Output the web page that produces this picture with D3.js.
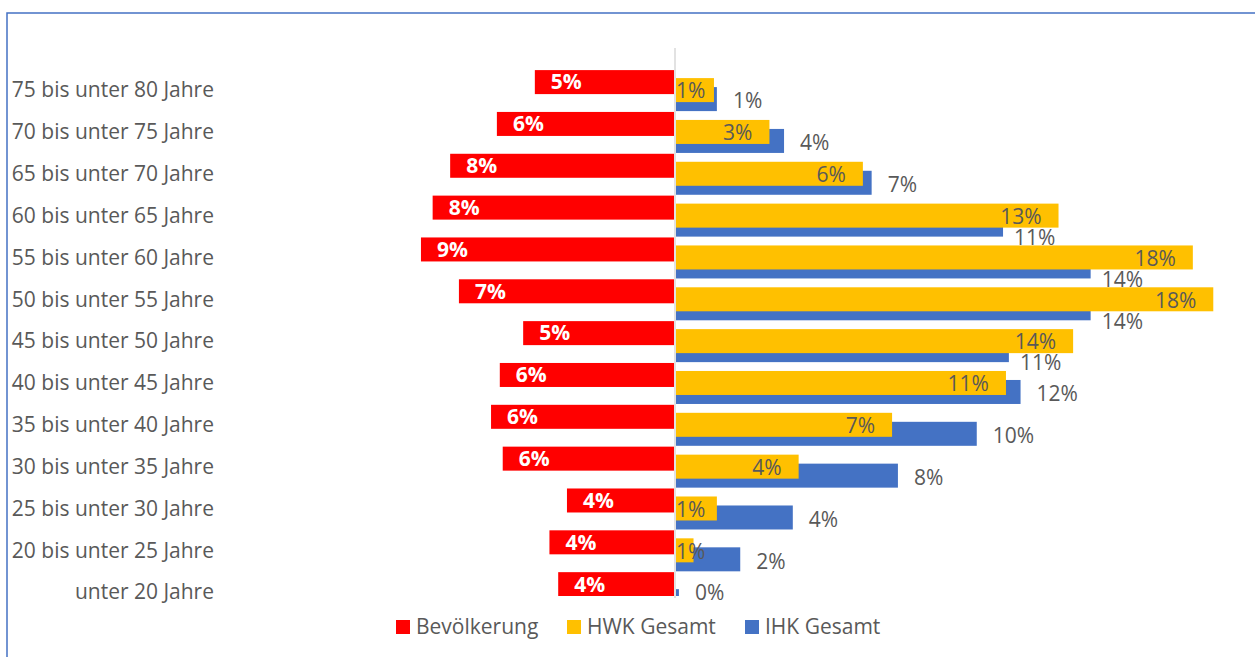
<!DOCTYPE html>
<html>
<head>
<meta charset="utf-8">
<script src="https://cdn.jsdelivr.net/npm/d3@7"></script>
<style>
  body { margin: 0; background: #fff; }
  text { font-family: "Open Sans", sans-serif; }
</style>
</head>
<body>
<script>
// age groups, top to bottom as shown
var categories = ["75 bis unter 80 Jahre", "70 bis unter 75 Jahre", "65 bis unter 70 Jahre",
  "60 bis unter 65 Jahre", "55 bis unter 60 Jahre", "50 bis unter 55 Jahre",
  "45 bis unter 50 Jahre", "40 bis unter 45 Jahre", "35 bis unter 40 Jahre",
  "30 bis unter 35 Jahre", "25 bis unter 30 Jahre", "20 bis unter 25 Jahre", "unter 20 Jahre"];

// shares in percent
var bevoelkerung = [4.8, 6.1, 7.7, 8.3, 8.7, 7.4, 5.2, 6.0, 6.3, 5.9, 3.7, 4.3, 4.0];
var hwk = [1.3, 3.2, 6.4, 13.1, 17.7, 18.4, 13.6, 11.3, 7.4, 4.2, 1.4, 0.6, 0];
var ihk = [1.4, 3.7, 6.7, 11.2, 14.2, 14.2, 11.4, 11.8, 10.3, 7.6, 4.0, 2.2, 0.1];

var seriesNames = ["Bevölkerung", "HWK Gesamt", "IHK Gesamt"];
var colors = ["#ff0000", "#ffc000", "#4472c4"];

var width = 1255, height = 657;
var grey = "#595959";
var fs = 21;
var plotBottom = 596;

var svg = d3.select("body").append("svg")
  .attr("width", width)
  .attr("height", height);

// frame
svg.append("rect")
  .attr("x", 7).attr("y", 13)
  .attr("width", width + 10).attr("height", height + 10)
  .attr("fill", "none")
  .attr("stroke", "#4472c4")
  .attr("stroke-width", 1.5);

svg.append("defs").append("clipPath")
  .attr("id", "plot")
  .append("rect")
  .attr("x", 0).attr("y", 40)
  .attr("width", width).attr("height", plotBottom - 40);

var x = d3.scaleLinear().domain([-10, 20]).range([383, 1259]);
var y = d3.scaleBand().domain(categories).range([69.1, 613]).padding(0);

var rows = categories.map(function(c, i) {
  return { cat: c, bev: bevoelkerung[i], hwk: hwk[i], ihk: ihk[i] };
});

function pct(v) { return Math.round(v) + "%"; }

// category labels
svg.append("g").selectAll("text")
  .data(categories)
  .enter().append("text")
  .attr("x", 214)
  .attr("y", function(d) { return Math.min(y(d) + y.bandwidth() / 2, 592); })
  .attr("dy", "0.35em")
  .attr("text-anchor", "end")
  .attr("font-size", fs)
  .attr("fill", grey)
  .text(function(d) { return d; });

var bars = svg.append("g").attr("clip-path", "url(#plot)");

// Bevölkerung (left)
bars.append("g").selectAll("rect")
  .data(rows)
  .enter().append("rect")
  .attr("x", function(d) { return x(-d.bev); })
  .attr("y", function(d) { return y(d.cat) + 1; })
  .attr("width", function(d) { return x(0) - 1 - x(-d.bev); })
  .attr("height", 24)
  .attr("fill", colors[0]);

// IHK (behind)
bars.append("g").selectAll("rect")
  .data(rows)
  .enter().append("rect")
  .attr("x", x(0) + 1)
  .attr("y", function(d) { return y(d.cat) + 18; })
  .attr("width", function(d) { return Math.max(0, x(d.ihk) - x(0)); })
  .attr("height", 24)
  .attr("fill", colors[2]);

// HWK (front)
bars.append("g").selectAll("rect")
  .data(rows)
  .enter().append("rect")
  .attr("x", x(0) + 1)
  .attr("y", function(d) { return y(d.cat) + 9; })
  .attr("width", function(d) { return Math.max(0, x(d.hwk) - x(0)); })
  .attr("height", 24)
  .attr("fill", colors[1]);

// axis line
svg.append("line")
  .attr("x1", x(0)).attr("x2", x(0))
  .attr("y1", 48).attr("y2", 598)
  .attr("stroke", "#d9d9d9")
  .attr("stroke-width", 1.5);

// labels red
svg.append("g").selectAll("text")
  .data(rows)
  .enter().append("text")
  .attr("x", function(d) { return x(-d.bev) + 16; })
  .attr("y", function(d) { return y(d.cat) + 13; })
  .attr("dy", "0.35em")
  .attr("font-size", fs)
  .attr("font-weight", "bold")
  .attr("fill", "#fff")
  .text(function(d) { return pct(d.bev); });

// labels HWK, inside end
svg.append("g").selectAll("text")
  .data(rows.filter(function(d) { return d.hwk > 0; }))
  .enter().append("text")
  .attr("font-size", fs)
  .attr("fill", grey)
  .attr("y", function(d) { return y(d.cat) + 22; })
  .attr("dy", "0.35em")
  .text(function(d) { return pct(d.hwk); })
  .each(function(d) {
    var tw = this.getComputedTextLength();
    var w = x(d.hwk) - x(0);
    if (w - 16 < tw) {
      d3.select(this).attr("text-anchor", "start").attr("x", x(0) + 1);
    } else {
      d3.select(this).attr("text-anchor", "end").attr("x", x(d.hwk) - 16);
    }
  });

// labels IHK, outside end (pushed down where the HWK bar is longer)
svg.append("g").selectAll("text")
  .data(rows)
  .enter().append("text")
  .attr("font-size", fs)
  .attr("fill", grey)
  .attr("x", function(d) { return x(d.ihk) + (d.hwk > d.ihk ? 12 : 17); })
  .attr("y", function(d) {
    var yy = y(d.cat) + 30 + (d.hwk > d.ihk ? 13 : 2);
    return Math.min(yy, plotBottom - 3);
  })
  .attr("dy", "0.35em")
  .text(function(d) { return pct(d.ihk); });

// legend
var legendX = [396, 567, 745];
var legend = svg.append("g").selectAll("g")
  .data(seriesNames)
  .enter().append("g")
  .attr("transform", function(d, i) { return "translate(" + legendX[i] + ",620)"; });
legend.append("rect")
  .attr("width", 14).attr("height", 14)
  .attr("fill", function(d, i) { return colors[i]; });
legend.append("text")
  .attr("x", 20).attr("y", 7)
  .attr("dy", "0.35em")
  .attr("font-size", fs)
  .attr("fill", grey)
  .text(function(d) { return d; });
</script>
</body>
</html>
